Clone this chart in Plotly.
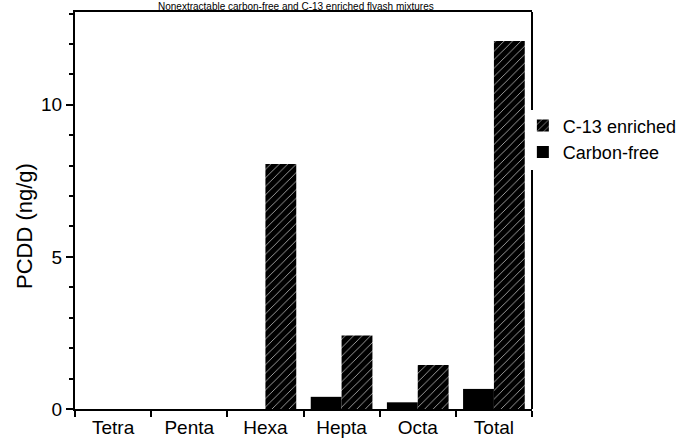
import plotly.graph_objects as go

categories = ["Tetra", "Penta", "Hexa", "Hepta", "Octa", "Total"]
carbon_free = [0.0, 0.0, 0.0, 0.40, 0.22, 0.66]
c13_enriched = [0.0, 0.0, 8.05, 2.42, 1.45, 12.1]
title_text = "Nonextractable carbon-free and C-13 enriched flyash mixtures"
y_title = "PCDD (ng/g)"

FONT = "Liberation Sans, Arial, Helvetica, sans-serif"

fig = go.Figure()
fig.add_trace(go.Bar(
    x=categories, y=carbon_free, name="Carbon-free",
    marker=dict(color="black", line=dict(width=0)),
))
fig.add_trace(go.Bar(
    x=categories, y=c13_enriched, name="C-13 enriched",
    marker=dict(color="black", line=dict(width=0),
                pattern=dict(shape="/", fgcolor="white", bgcolor="black",
                             size=6, solidity=0.1, fillmode="replace")),
))

fig.update_layout(
    width=688, height=444,
    margin=dict(l=75, r=156, t=12, b=35, autoexpand=False),
    paper_bgcolor="white", plot_bgcolor="white",
    font=dict(family=FONT, color="black", size=19),
    barmode="group", bargap=0.19, bargroupgap=0,
    showlegend=True,
    legend=dict(x=0.98, y=0.76, xanchor="left", yanchor="top",
                traceorder="reversed", font=dict(size=18, family=FONT),
                itemwidth=30, tracegroupgap=0, bgcolor="rgba(0,0,0,0)"),
    xaxis=dict(
        showline=True, linecolor="black", linewidth=2, mirror=True,
        ticks="outside", tickson="boundaries", ticklen=6, tickwidth=2,
        tickcolor="black", showgrid=False, zeroline=False,
        tickfont=dict(size=19),
    ),
    yaxis=dict(
        range=[0, 13.05], showline=True, linecolor="black", linewidth=2,
        mirror=False, ticks="outside", ticklen=7, tickwidth=2,
        tickcolor="black", tickvals=[0, 5, 10], showgrid=False,
        zeroline=False, tickfont=dict(size=19),
        minor=dict(dtick=1, ticks="outside", ticklen=4, tickcolor="black",
                   tickwidth=1.5, showgrid=False),
    ),
    shapes=[
        dict(type="line", xref="paper", yref="paper", x0=1, x1=1,
             y0=1, y1=(409 - 110) / 397, line=dict(color="black", width=2)),
        dict(type="line", xref="paper", yref="paper", x0=1, x1=1,
             y0=(409 - 170) / 397, y1=0, line=dict(color="black", width=2)),
    ],
    annotations=[
        dict(text=title_text, xref="paper", yref="paper",
             x=(296 - 75) / 457, y=409 / 397, xanchor="center",
             yanchor="top", showarrow=False, borderpad=0,
             font=dict(size=10, family=FONT)),
        dict(text=y_title, xref="paper", yref="paper", textangle=-90,
             x=(24 - 75) / 457, y=(409 - 226) / 397, xanchor="center",
             yanchor="middle", showarrow=False, borderpad=0,
             font=dict(size=22, family=FONT)),
    ],
)

fig.write_html("out.html", config={"displayModeBar": False},
               post_script="document.body.style.margin='0';")
